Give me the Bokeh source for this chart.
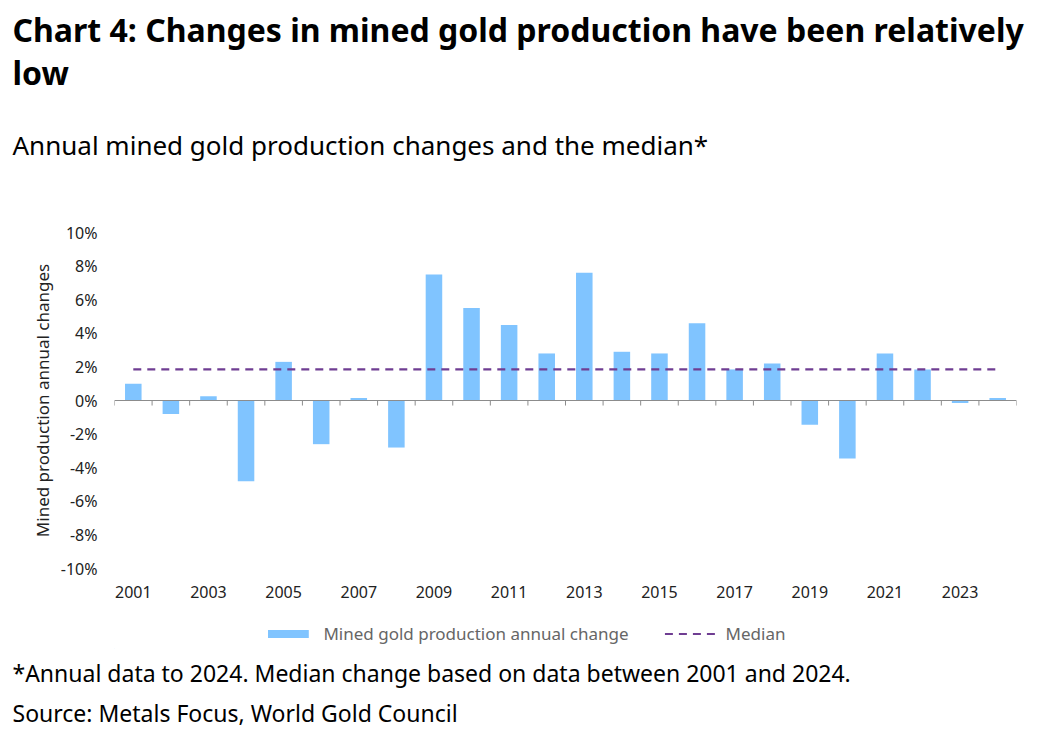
from bokeh.plotting import figure
from bokeh.layouts import column
from bokeh.models import Legend, LegendItem, Span, FixedTicker, Title, Range1d
from bokeh.embed import file_html
from bokeh.resources import INLINE

# ---- data ----
years = list(range(2001, 2025))
changes = [1.0, -0.8, 0.25, -4.8, 2.3, -2.6, 0.15, -2.8, 7.5, 5.5, 4.5, 2.8,
           7.6, 2.9, 2.8, 4.6, 1.85, 2.2, -1.45, -3.45, 2.8, 1.85, -0.15, 0.15]
median_value = 1.85
medians = [median_value] * len(years)
xtick_years = list(range(2001, 2024, 2))
xtick_labels = [str(y) for y in xtick_years]
ytick_values = list(range(-10, 11, 2))
ytick_labels = [f"{v}%" for v in ytick_values]

title_text = "Chart 4: Changes in mined gold production have been relatively\nlow"
subtitle = "Annual mined gold production changes and the median*"
bar_label = "Mined gold production annual change"
median_label = "Median"
foot1 = "*Annual data to 2024. Median change based on data between 2001 and 2024."
foot2 = "Source: Metals Focus, World Gold Council"

FONT = "Noto Sans"
BAR = "#80C4FF"
MED = "#6F3D92"
BAR_W = 0.44
MED_DASH = "8 6"

# ---------------- chart ----------------
p = figure(frame_width=902, frame_height=336, x_range=(2000.5, 2024.5), y_range=(-10, 10),
           output_backend="svg", toolbar_location=None,
           min_border_left=114, min_border_right=14, min_border_top=232, min_border_bottom=50)
p.outline_line_color = None
p.xgrid.visible = False
p.ygrid.visible = False

p.vbar(x=years, top=changes, width=BAR_W, fill_color=BAR, line_color=None)
p.line(years, medians, line_color=MED, line_width=2.2, line_dash=MED_DASH)

# zero axis line and boundary tick marks
p.add_layout(Span(location=0, dimension="width", line_color="#8c8c8c", line_width=1))
bounds = [y - 0.5 for y in years] + [years[-1] + 0.5]
p.segment(x0=bounds, y0=[0] * len(bounds), x1=bounds, y1=[-0.3] * len(bounds),
          line_color="#8c8c8c", line_width=1)

xa = p.xaxis[0]
xa.ticker = FixedTicker(ticks=xtick_years)
xa.major_label_overrides = dict(zip(xtick_years, xtick_labels))
xa.axis_line_color = None
xa.major_tick_line_color = None
xa.minor_tick_line_color = None
xa.major_label_standoff = 11
xa.major_label_text_font = FONT
xa.major_label_text_font_size = "16px"
xa.major_label_text_color = "#222222"

ya = p.yaxis[0]
ya.ticker = FixedTicker(ticks=ytick_values)
ya.major_label_overrides = dict(zip(ytick_values, ytick_labels))
ya.axis_line_color = None
ya.major_tick_line_color = None
ya.minor_tick_line_color = None
ya.major_label_standoff = 11
ya.major_label_text_font = FONT
ya.major_label_text_font_size = "16px"
ya.major_label_text_color = "#222222"
ya.axis_label = "Mined production annual changes"
ya.axis_label_text_font = FONT
ya.axis_label_text_font_size = "17px"
ya.axis_label_text_font_style = "normal"
ya.axis_label_text_color = "#222222"
ya.axis_label_standoff = 4

p.add_layout(Title(text=subtitle, align="left", offset=-102, text_font=FONT, text_font_size="26px",
                   text_font_style="normal", text_color="#000000", standoff=139), "above")
p.add_layout(Title(text=title_text, align="left", offset=-102, text_font=FONT, text_font_size="32px",
                   text_font_style="bold", text_color="#000000", text_line_height=1.0,
                   standoff=-76), "above")

# ---------------- legend + notes ----------------
f = figure(frame_width=902, frame_height=30, x_range=Range1d(0, 1), y_range=Range1d(0, 1),
           x_axis_location=None, y_axis_location=None,
           output_backend="svg", toolbar_location=None,
           min_border_left=114, min_border_right=14, min_border_top=0, min_border_bottom=0)
f.outline_line_color = None
f.grid.visible = False
# legend proxies (kept outside the visible range of this strip)
leg_bar = f.vbar(x=[-5], top=[-5], width=BAR_W, fill_color=BAR, line_color=None)
leg_med = f.line(x=[-5, -4], y=[-5, -5], line_color=MED, line_width=2.2, line_dash=MED_DASH)

legend = Legend(items=[LegendItem(label=bar_label, renderers=[leg_bar], index=0),
                       LegendItem(label=median_label, renderers=[leg_med], index=0)],
                orientation="horizontal", location="center",
                glyph_width=51, glyph_height=10, label_standoff=10, spacing=36, label_width=142,
                label_text_font=FONT, label_text_font_size="17px", label_text_color="#666666",
                border_line_color=None, background_fill_alpha=0, padding=0, margin=0)
f.add_layout(legend, "center")

f.add_layout(Title(text=foot1, align="left", offset=-102, text_font=FONT, text_font_size="23px",
                   text_font_style="normal", text_color="#000000", standoff=12), "below")
f.add_layout(Title(text=foot2, align="left", offset=-102, text_font=FONT, text_font_size="23px",
                   text_font_style="normal", text_color="#000000", standoff=0), "below")

layout = column(p, f, spacing=0)
open("out.html", "w").write(file_html(layout, INLINE))
